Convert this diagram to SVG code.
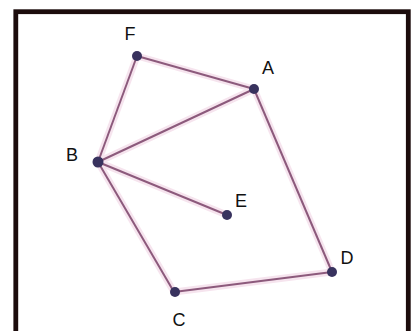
<svg xmlns="http://www.w3.org/2000/svg" width="413" height="331" viewBox="0 0 413 331">
<style>
.edge{stroke:#8c5a7c;stroke-width:2;fill:none}
.halo{stroke:#f6e4ee;stroke-width:7;fill:none}
.node{fill:#38325e}
.lbl{font-family:"Liberation Sans",Arial,sans-serif;font-size:18px;fill:#111;text-anchor:middle}
</style>
<rect width="413" height="331" fill="#fff"/>
<rect x="15.8" y="11.7" width="392.5" height="330" fill="none" stroke="#1c0c0c" stroke-width="4.8"/>
<g id="connectors">
<g class="halo">
<line x1="137" y1="56" x2="254" y2="89"/>
<line x1="137" y1="56" x2="98" y2="162"/>
<line x1="98" y1="162" x2="254" y2="89"/>
<line x1="98" y1="162" x2="227" y2="215"/>
<line x1="98" y1="162" x2="174" y2="292"/>
<line x1="254" y1="89" x2="332" y2="272"/>
<line x1="174" y1="292" x2="332" y2="272"/>
</g>
<g class="edge">
<line x1="137" y1="56" x2="254" y2="89"/>
<line x1="137" y1="56" x2="98" y2="162"/>
<line x1="98" y1="162" x2="254" y2="89"/>
<line x1="98" y1="162" x2="227" y2="215"/>
<line x1="98" y1="162" x2="174" y2="292"/>
<line x1="254" y1="89" x2="332" y2="272"/>
<line x1="174" y1="292" x2="332" y2="272"/>
</g>
</g>
<g id="F"><circle class="node" cx="137" cy="56" r="5"/><text class="lbl" x="130" y="40">F</text></g>
<g id="A"><circle class="node" cx="254" cy="89" r="5"/><text class="lbl" x="268" y="74">A</text></g>
<g id="B"><circle class="node" cx="98" cy="162" r="5.5"/><text class="lbl" x="72" y="161">B</text></g>
<g id="E"><circle class="node" cx="227" cy="215" r="5"/><text class="lbl" x="241" y="207">E</text></g>
<g id="D"><circle class="node" cx="332" cy="272" r="5"/><text class="lbl" x="347" y="264">D</text></g>
<g id="C"><circle class="node" cx="175" cy="292" r="5"/><text class="lbl" x="179" y="326">C</text></g>
</svg>
